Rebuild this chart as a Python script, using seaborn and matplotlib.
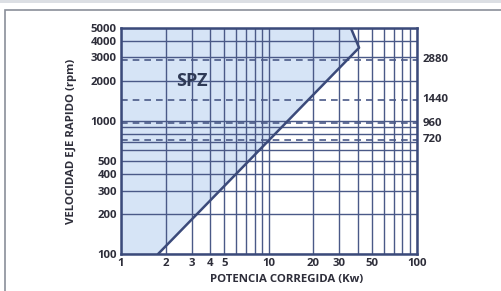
import matplotlib
matplotlib.use("Agg")
import matplotlib.pyplot as plt
import matplotlib.patches as mpatches
import numpy as np
import pandas as pd
import seaborn as sns

# boundary of the SPZ selection zone (power kW vs fast shaft speed rpm)
boundary_kw = [1.78, 40.7, 35.8]
boundary_rpm = [100, 3550, 5000]

# reference motor speeds drawn as dashed lines
speed_lines = [720, 960, 1440, 2880]

x_ticks = [1, 2, 3, 4, 5, 10, 20, 30, 50, 100]
y_ticks = [100, 200, 300, 400, 500, 1000, 2000, 3000, 4000, 5000]

zone_label = "SPZ"
x_label = "POTENCIA CORREGIDA (Kw)"
y_label = "VELOCIDAD EJE RAPIDO (rpm)"

sns.set_style("white")
plt.rcParams['font.family'] = ['Open Sans', 'DejaVu Sans']

grid_col = '#4a5987'
line_col = '#3b4a7a'
fill_col = '#d6e4f6'
text_col = '#2e2e3a'
fs = 8.2

fig, ax = plt.subplots(figsize=(5.01, 2.91), dpi=100)
fig.subplots_adjust(left=0.2415, right=0.832, top=0.904, bottom=0.127)

df = pd.DataFrame({'kw': boundary_kw, 'rpm': boundary_rpm})

ax.set_xscale('log')
ax.set_yscale('log')
ax.set_xlim(1, 100)
ax.set_ylim(100, 5000)

ax.fill_betweenx(df['rpm'], 1, df['kw'], color=fill_col, zorder=0, lw=0)

ax.grid(which='both', axis='both', color=grid_col, lw=1.0, zorder=1)
for v in speed_lines:
    ax.axhline(v, ls=(0, (4, 3)), color=grid_col, lw=1.2, zorder=2)
    ax.text(1.02, v, str(v), transform=ax.get_yaxis_transform(),
            va='center', ha='left', fontsize=fs, fontweight='bold', color=text_col)

sns.lineplot(data=df, x='kw', y='rpm', sort=False, ax=ax, color=line_col, lw=1.8, zorder=3)

ax.text(3.0, 2000, zone_label, fontsize=13, fontweight='bold', color='#2f3a55',
        ha='center', va='center', zorder=4)

ax.set_xticks(x_ticks)
ax.set_xticklabels([str(t) for t in x_ticks])
ax.set_yticks(y_ticks)
ax.set_yticklabels([str(t) for t in y_ticks])
ax.xaxis.set_minor_formatter(matplotlib.ticker.NullFormatter())
ax.yaxis.set_minor_formatter(matplotlib.ticker.NullFormatter())
ax.tick_params(which='both', length=0, labelsize=fs, colors=text_col, pad=3)
for lab in ax.get_xticklabels() + ax.get_yticklabels():
    lab.set_fontweight('bold')

ax.set_xlabel(x_label, fontsize=fs, fontweight='bold', color=text_col)
ax.set_ylabel(y_label, fontsize=fs, fontweight='bold', color=text_col)
ax.xaxis.set_label_coords(0.56, -0.088)
ax.yaxis.set_label_coords(-0.148, 0.5)

for s in ax.spines.values():
    s.set_color(line_col)
    s.set_linewidth(1.8)
    s.set_visible(True)

# outer frame around the figure
fig.patches.append(mpatches.Rectangle((5 / 501, -0.05), 1.1, 1 - 10 / 291 + 0.05,
                                      transform=fig.transFigure, fill=False,
                                      edgecolor='#8a8f9a', lw=1.2))
fig.patches.append(mpatches.Rectangle((0, 1 - 3 / 291), 1, 3 / 291,
                                      transform=fig.transFigure, color='#dcdfe4', lw=0))

fig.savefig('out.png', dpi=100)
